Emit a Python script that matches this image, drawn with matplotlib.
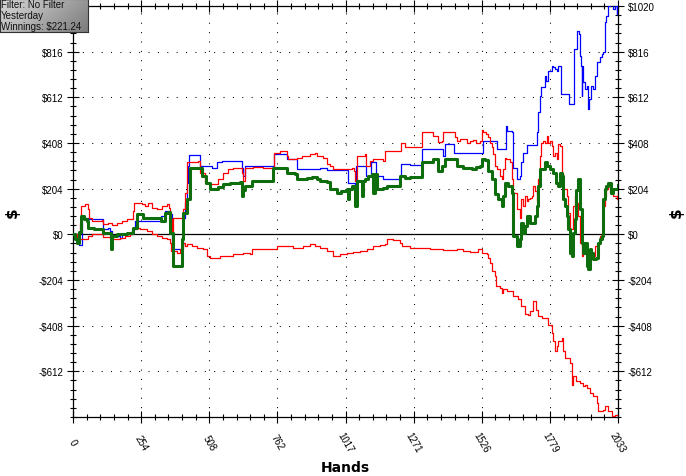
import numpy as np
import matplotlib
matplotlib.use("Agg")
import matplotlib.pyplot as plt
from matplotlib.ticker import MultipleLocator

# ---- data (hand number, $) ----
green_hands = [0, 8, 15, 24, 29, 40, 51, 57, 80, 113, 142, 147, 163, 200, 225, 238, 260, 312, 330, 343,
               355, 362, 372, 399, 405, 412, 424, 436, 461, 480, 496, 511, 540, 561, 586, 600, 623, 629,
               635, 642, 667, 747, 791, 797, 828, 834, 872, 890, 909, 921, 946, 959, 984, 1000, 1021,
               1025, 1030, 1040, 1052, 1058, 1071, 1077, 1083, 1089, 1102, 1114, 1120, 1126, 1133, 1157,
               1170, 1220, 1238, 1257, 1290, 1301, 1332, 1344, 1363, 1375, 1388, 1419, 1431, 1456, 1487,
               1505, 1518, 1525, 1537, 1549, 1562, 1574, 1586, 1599, 1605, 1611, 1624, 1636, 1642, 1655,
               1667, 1673, 1680, 1686, 1692, 1705, 1717, 1725, 1730, 1736, 1742, 1761, 1770, 1779, 1792,
               1800, 1810, 1817, 1823, 1829, 1835, 1841, 1848, 1854, 1860, 1864, 1872, 1878, 1885, 1891,
               1897, 1903, 1910, 1916, 1922, 1928, 1934, 1941, 1950, 1959, 1966, 1972, 1978, 1984, 1990,
               1997, 2008, 2015, 2025, 2033]
green_vals = [0, -20, -37, 10, 82, 70, 60, 30, 22, 7, -67, -7, 0, 5, 30, 89, 75, 75, 60, 97,
              100, 7, -142, -142, -22, 97, 157, 298, 298, 261, 231, 201, 210, 224, 231, 228, 232, 171,
              200, 216, 238, 298, 296, 276, 270, 246, 250, 258, 246, 238, 236, 201, 186, 195, 201,
              157, 201, 215, 127, 238, 238, 171, 238, 246, 261, 268, 186, 268, 201, 205,
              216, 261, 250, 254, 254, 321, 321, 336, 283, 306, 336, 336, 306, 298, 291,
              300, 306, 336, 330, 283, 246, 179, 157, 127, 171, 231, 216, 186, -7, -52,
              -22, 52, 7, 37, 82, 52, 52, 82, 127, 216, 291, 321, 306, 291, 276,
              231, 216, 276, 261, 157, 127, 82, 22, -82, -97, 7, 67, 200, 246, 112,
              -37, -82, -37, -142, -157, -67, -82, -112, -104, -37, -22, -7, 157, 201, 216,
              231, 186, 201, 201, 221]

blue_hands = [0, 15, 24, 32, 57, 113, 132, 138, 144, 175, 181, 219, 231, 318, 330, 343, 362, 368, 399,
              405, 410, 418, 424, 430, 434, 467, 474, 520, 536, 555, 623, 629, 635, 642, 747, 750, 797,
              800, 834, 837, 884, 921, 946, 1021, 1025, 1046, 1052, 1056, 1089, 1093, 1108, 1112, 1126,
              1130, 1157, 1220, 1222, 1257, 1303, 1375, 1381, 1388, 1419, 1421, 1525, 1528, 1567, 1580,
              1614, 1617, 1620, 1636, 1642, 1655, 1667, 1673, 1680, 1695, 1730, 1732, 1736, 1742, 1744,
              1754, 1761, 1764, 1773, 1785, 1792, 1798, 1804, 1810, 1817, 1820, 1848, 1851, 1866, 1869,
              1878, 1881, 1889, 1891, 1895, 1897, 1900, 1903, 1910, 1916, 1920, 1926, 1931, 1941, 1947,
              1956, 1966, 1972, 1978, 1984, 1990, 1997, 2003, 2010, 2013, 2022, 2028, 2030, 2033]
blue_vals = [0, 0, -49, 75, 67, 22, 30, 15, -7, -15, 0, 22, 60, 60, 82, 104, 89, -67, -67,
             -52, 75, 142, 231, 306, 353, 353, 306, 298, 321, 328, 328, 298, 261, 306, 306, 358, 358,
             336, 336, 294, 294, 298, 286, 286, 231, 231, 201, 306, 306, 261, 261, 321, 321,
             261, 249, 261, 313, 309, 380, 380, 350, 403, 403, 365, 365, 415, 415, 383,
             383, 485, 460, 455, 298, 246, 261, 321, 365, 400, 400, 455, 545, 619, 656,
             656, 708, 686, 731, 753, 746, 738, 731, 753, 753, 626, 626, 582, 582, 828,
             828, 910, 895, 798, 753, 619, 753, 679, 649, 664, 562, 604, 664, 649, 708,
             768, 790, 805, 813, 947, 977, 1021, 1060, 1040, 1007, 1021, 984, 1060, 1060]

red_hi_hands = [0, 20, 26, 30, 45, 57, 61, 70, 107, 113, 130, 144, 163, 181, 200, 219, 225, 228, 256,
                269, 281, 293, 312, 331, 349, 359, 362, 368, 372, 405, 411, 418, 424, 440, 467, 474, 492,
                511, 530, 542, 561, 579, 598, 623, 629, 635, 642, 673, 710, 741, 750, 772, 791, 797, 803,
                834, 853, 872, 884, 903, 909, 921, 934, 946, 959, 971, 1021, 1040, 1048, 1052, 1058,
                1089, 1093, 1108, 1120, 1157, 1164, 1220, 1222, 1238, 1257, 1301, 1303, 1332, 1344,
                1363, 1375, 1381, 1395, 1419, 1425, 1431, 1443, 1456, 1468, 1481, 1493, 1505, 1518,
                1525, 1531, 1540, 1549, 1555, 1562, 1568, 1574, 1583, 1593, 1599, 1605, 1611, 1617,
                1630, 1636, 1642, 1655, 1667, 1673, 1680, 1686, 1692, 1698, 1705, 1711, 1717, 1723,
                1730, 1736, 1742, 1744, 1754, 1761, 1767, 1773, 1779, 1785, 1792, 1798, 1804, 1810,
                1817, 1823, 1829, 1841, 1848, 1854, 1864, 1872, 1878, 1885, 1891, 1897, 1903, 1916,
                1922, 1928, 1934, 1941, 1947, 1953, 1966, 1975, 1978, 1984, 1990, 1997, 2003, 2015,
                2028, 2033]
red_hi_vals = [0, 0, 52, 127, 134, 112, 75, 60, 63, 45, 52, 40, 52, 60, 67, 70, 104, 142, 134,
               127, 142, 119, 112, 127, 134, 119, 67, 0, 75, 75, 112, 186, 321, 325, 328, 276, 231,
               224, 224, 246, 276, 291, 298, 298, 276, 238, 298, 303, 298, 295, 365, 373, 373, 350, 336,
               339, 350, 350, 358, 365, 350, 350, 343, 313, 306, 291, 291, 298, 283, 238, 350,
               358, 306, 328, 336, 328, 373, 373, 410, 388, 388, 388, 459, 455, 440,
               413, 418, 459, 455, 455, 433, 418, 425, 428, 410, 418, 422, 410, 418,
               467, 455, 447, 433, 410, 388, 358, 306, 291, 261, 246, 291, 343, 336,
               321, 246, 186, 112, 75, 157, 127, 171, 149, 157, 164, 171, 216, 194,
               149, 246, 350, 410, 418, 410, 440, 410, 418, 395, 350, 365, 336, 403,
               395, 276, 201, 171, 97, 22, 127, 171, 142, 82, -37, -97, -82, -142,
               -157, -112, -82, -97, -52, -45, -7, 7, 127, 171, 201, 216, 186, 171,
               157, 201]

red_lo_hands = [0, 14, 24, 57, 70, 113, 150, 175, 194, 213, 225, 238, 250, 275, 293, 312, 331, 349,
                362, 366, 387, 399, 411, 418, 424, 443, 461, 486, 499, 511, 548, 573, 598, 635, 660,
                667, 722, 760, 822, 859, 884, 903, 921, 946, 971, 996, 1021, 1046, 1071, 1095, 1120,
                1145, 1164, 1170, 1195, 1220, 1226, 1257, 1282, 1307, 1332, 1357, 1381, 1406, 1431,
                1456, 1481, 1512, 1524, 1543, 1549, 1555, 1562, 1574, 1577, 1593, 1599, 1605, 1618,
                1630, 1642, 1661, 1673, 1686, 1698, 1705, 1717, 1727, 1736, 1748, 1761, 1773, 1785,
                1792, 1798, 1804, 1810, 1823, 1829, 1835, 1848, 1854, 1860, 1866, 1878, 1891, 1903,
                1910, 1916, 1928, 1941, 1953, 1959, 1978, 1984, 1997, 2009, 2022, 2033]
red_lo_vals = [0, -15, -22, -7, 0, -10, -19, -15, -7, 0, 22, 30, 22, 15, 0, -7, -15, -22,
               -37, -75, -82, -67, -37, -52, -45, -52, -60, -67, -97, -104, -97, -97, -89, -85, -89,
               -67, -67, -52, -60, -52, -45, -52, -60, -75, -97, -89, -82, -79, -75, -67, -52,
               -49, -45, -22, -27, -37, -52, -63, -60, -60, -67, -67, -70, -72, -67,
               -75, -79, -67, -82, -89, -104, -127, -164, -186, -231, -238, -261, -246, -253,
               -253, -276, -291, -321, -358, -362, -343, -298, -336, -365, -373, -373, -403, -440,
               -477, -522, -500, -477, -462, -522, -552, -552, -574, -671, -634, -656, -663, -679,
               -671, -686, -708, -723, -753, -790, -783, -768, -790, -813, -805, -801]

x_tick_pos = np.linspace(0, 2033, 9)
x_tick_labels = ["0", "254", "508", "762", "1017", "1271", "1526", "1779", "2033"]
y_ticks = [-612, -408, -204, 0, 204, 408, 612, 816, 1020]
y_tick_labels = [f"-${-v}" if v < 0 else f"${v}" for v in y_ticks]

fig = plt.figure(figsize=(6.86, 4.77), dpi=100)
ax = fig.add_axes([73 / 686, 1 - 418 / 477, 545 / 686, 411 / 477])

ax.plot(blue_hands, blue_vals, color="#0000ff", lw=0.9, drawstyle="steps-post", zorder=3)
ax.plot(red_lo_hands, red_lo_vals, color="#ff0000", lw=0.9, drawstyle="steps-post", zorder=3)
ax.plot(red_hi_hands, red_hi_vals, color="#ff0000", lw=0.9, drawstyle="steps-post", zorder=3)
ax.plot(green_hands, green_vals, color="#0e6e0e", lw=2.2, drawstyle="steps-post", zorder=4)
ax.axhline(0, color="black", lw=0.9, zorder=2)

ax.set_xlim(0, 2033)
ax.set_ylim(-816, 1020)
ax.set_axisbelow(True)
ax.grid(True, which="major", color="black", linestyle=(0, (1, 8)), lw=0.75)

ax.set_xticks(x_tick_pos)
ax.set_xticklabels(x_tick_labels)
ax.xaxis.set_minor_locator(MultipleLocator(2033 / 40))
ax.set_yticks(y_ticks)
ax.set_yticklabels(y_tick_labels)
ax.yaxis.set_minor_locator(MultipleLocator(40.8))

ax.tick_params(axis="both", which="both", direction="inout", color="black", width=0.8,
               labelsize=7, labelfontfamily="Liberation Sans")
ax.tick_params(axis="both", which="major", length=8)
ax.tick_params(axis="both", which="minor", length=5)
ax.tick_params(axis="y", which="both", left=True, right=True, labelleft=True, labelright=True)
ax.tick_params(axis="y", which="major", pad=3)
ax.tick_params(axis="x", which="both", top=True)
ax.tick_params(axis="x", which="major", pad=14)
for lbl in ax.get_xticklabels():
    lbl.set(rotation=-60, ha="center", va="center", rotation_mode="anchor")
# the left $1020 label sits under the info box in the reference
ax.yaxis.get_major_ticks()[-1].label1.set_visible(False)
for sp in ax.spines.values():
    sp.set_linewidth(0.9)

fig.text(345 / 686, 1 - 468 / 477, "Hands", ha="center", va="center", fontsize=10, weight="bold")
fig.text(12 / 686, 1 - 213 / 477, "$", ha="center", va="center", fontsize=11, weight="bold", rotation=90)
fig.text(676 / 686, 1 - 213 / 477, "$", ha="center", va="center", fontsize=11, weight="bold", rotation=90)

# grey info box in the top-left corner
box = fig.add_axes([0, 1 - 33 / 477, 88 / 686, 33 / 477], zorder=10)
grad = np.linspace(0, 1, 100)[None, :] + np.linspace(0, 0.4, 20)[:, None]
box.imshow(grad, cmap="Greys", vmin=-1.2, vmax=3.2, aspect="auto", extent=[0, 1, 0, 1])
box.set_xticks([])
box.set_yticks([])
for sp in box.spines.values():
    sp.set_color("#333333")
    sp.set_linewidth(0.8)
for i, line in enumerate(["Filter: No Filter", "Yesterday", "Winnings: $221.24"]):
    box.text(0.015, 1 - (5.5 + i * 10.5) / 33, line, transform=box.transAxes, ha="left", va="center",
             fontsize=7, family="Liberation Sans", color="#111111")

fig.savefig("out.png", dpi=100)
